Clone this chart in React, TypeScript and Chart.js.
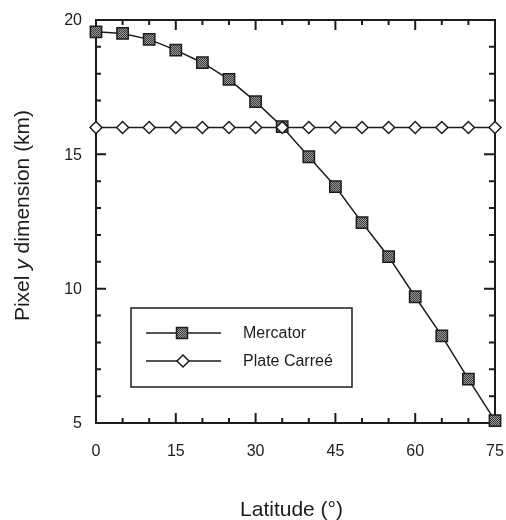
import React, { useEffect, useRef } from "react";
import { Chart, registerables } from "chart.js";

Chart.register(...registerables);

// ---- data ----
const latitudes = [0, 5, 10, 15, 20, 25, 30, 35, 40, 45, 50, 55, 60, 65, 70, 75];
const mercator = [19.56, 19.5, 19.28, 18.88, 18.41, 17.79, 16.96, 16.03, 14.91, 13.8, 12.46, 11.19, 9.7, 8.24, 6.63, 5.09];
const plateCarree = [16, 16, 16, 16, 16, 16, 16, 16, 16, 16, 16, 16, 16, 16, 16, 16];
const xTickLabels = [0, 15, 30, 45, 60, 75];
const yTickLabels = [5, 10, 15, 20];
const xMinorStep = 5;
const yMinorStep = 1;
const seriesNames = ["Mercator", "Plate Carreé"];
const xTitle = "Latitude (°)";
const yTitleParts = ["Pixel ", "y", " dimension (km)"];

const FONT = "'Liberation Sans', Arial, Helvetica, sans-serif";
const INK = "#1c1c1c";

function makePattern(): CanvasPattern | string {
  const c = document.createElement("canvas");
  c.width = 2;
  c.height = 2;
  const g = c.getContext("2d");
  if (!g) return "#666";
  g.fillStyle = "#9a9a9a";
  g.fillRect(0, 0, 2, 2);
  g.fillStyle = "#3a3a3a";
  g.fillRect(0, 0, 1, 1);
  g.fillRect(1, 1, 1, 1);
  const p = g.createPattern(c, "repeat");
  return p || "#666";
}

function drawSquare(ctx: CanvasRenderingContext2D, x: number, y: number, half: number, fill: any) {
  ctx.save();
  ctx.fillStyle = fill;
  ctx.strokeStyle = INK;
  ctx.lineWidth = 1.5;
  ctx.beginPath();
  ctx.rect(x - half, y - half, half * 2, half * 2);
  ctx.fill();
  ctx.stroke();
  ctx.restore();
}

function drawDiamond(ctx: CanvasRenderingContext2D, x: number, y: number, r: number) {
  ctx.save();
  ctx.fillStyle = "#ffffff";
  ctx.strokeStyle = INK;
  ctx.lineWidth = 1.5;
  ctx.beginPath();
  ctx.moveTo(x, y - r);
  ctx.lineTo(x + r, y);
  ctx.lineTo(x, y + r);
  ctx.lineTo(x - r, y);
  ctx.closePath();
  ctx.fill();
  ctx.stroke();
  ctx.restore();
}

export default function App() {
  const ref = useRef<HTMLCanvasElement | null>(null);

  useEffect(() => {
    document.body.style.margin = "0";
    const canvas = ref.current;
    if (!canvas) return;
    const pattern = makePattern();

    const framePlugin = {
      id: "frameAxes",
      beforeDatasetsDraw(chart: any) {
        const ctx: CanvasRenderingContext2D = chart.ctx;
        const { left, right, top, bottom } = chart.chartArea;
        const xs = chart.scales.x;
        const ys = chart.scales.y;
        ctx.save();
        ctx.strokeStyle = INK;
        ctx.lineWidth = 2;
        ctx.strokeRect(left, top, right - left, bottom - top);

        // x ticks (bottom & top), inward
        for (let v = xs.min; v <= xs.max + 1e-9; v += xMinorStep) {
          const px = xs.getPixelForValue(v);
          const major = xTickLabels.includes(v);
          const lb = major ? 10 : 5;
          const lt = major ? 10 : 5;
          ctx.beginPath();
          ctx.moveTo(px, bottom);
          ctx.lineTo(px, bottom - lb);
          ctx.moveTo(px, top);
          ctx.lineTo(px, top + lt);
          ctx.stroke();
        }
        // y ticks (left & right), inward
        for (let v = ys.min; v <= ys.max + 1e-9; v += yMinorStep) {
          const py = ys.getPixelForValue(v);
          const major = yTickLabels.includes(v);
          const ll = major ? 10 : 5;
          const lr = major ? 11 : 6;
          ctx.beginPath();
          ctx.moveTo(left, py);
          ctx.lineTo(left + ll, py);
          ctx.moveTo(right, py);
          ctx.lineTo(right - lr, py);
          ctx.stroke();
        }

        // tick labels
        ctx.fillStyle = INK;
        ctx.font = `16px ${FONT}`;
        ctx.textAlign = "center";
        ctx.textBaseline = "alphabetic";
        for (const v of xTickLabels) {
          ctx.fillText(String(v), xs.getPixelForValue(v), bottom + 33);
        }
        ctx.textAlign = "right";
        ctx.textBaseline = "middle";
        for (const v of yTickLabels) {
          ctx.fillText(String(v), left - 14, ys.getPixelForValue(v) + 1);
        }

        // x title
        ctx.font = `21px ${FONT}`;
        ctx.textAlign = "center";
        ctx.textBaseline = "alphabetic";
        ctx.fillText(xTitle, (left + right) / 2 - 4, bottom + 93);

        // y title (rotated, italic y)
        const fonts = [`21px ${FONT}`, `italic 21px ${FONT}`, `21px ${FONT}`];
        const widths = yTitleParts.map((t, i) => {
          ctx.font = fonts[i];
          return ctx.measureText(t).width;
        });
        const total = widths.reduce((a, b) => a + b, 0);
        ctx.save();
        ctx.translate(left - 67, (top + bottom) / 2 - 6);
        ctx.rotate(-Math.PI / 2);
        ctx.textAlign = "left";
        ctx.textBaseline = "alphabetic";
        let cx = -total / 2;
        yTitleParts.forEach((t, i) => {
          ctx.font = fonts[i];
          ctx.fillText(t, cx, 0);
          cx += widths[i];
        });
        ctx.restore();

        // legend
        const bx = left + 35;
        const by = top + 288;
        const bw = 221;
        const bh = 79;
        ctx.lineWidth = 1.5;
        ctx.strokeRect(bx, by, bw, bh);
        const rows = [by + 25, by + 53];
        rows.forEach((ry) => {
          ctx.beginPath();
          ctx.moveTo(bx + 15, ry);
          ctx.lineTo(bx + 90, ry);
          ctx.stroke();
        });
        drawSquare(ctx, bx + 51, rows[0], 5.5, pattern);
        drawDiamond(ctx, bx + 52, rows[1], 6);
        ctx.font = `16px ${FONT}`;
        ctx.textAlign = "left";
        ctx.textBaseline = "middle";
        ctx.fillStyle = INK;
        ctx.fillText(seriesNames[0], bx + 112, rows[0] + 1);
        ctx.fillText(seriesNames[1], bx + 112, rows[1] + 1);
        ctx.restore();
      },
    };

    const chart = new Chart(canvas, {
      type: "line",
      data: {
        labels: latitudes,
        datasets: [
          {
            label: seriesNames[1],
            data: latitudes.map((x, i) => ({ x, y: plateCarree[i] })),
            borderColor: INK,
            borderWidth: 1.5,
            pointStyle: "rectRot",
            pointRadius: 6,
            pointBorderWidth: 1.5,
            pointBackgroundColor: "#ffffff",
            pointBorderColor: INK,
            tension: 0,
            clip: false as any,
          },
          {
            label: seriesNames[0],
            data: latitudes.map((x, i) => ({ x, y: mercator[i] })),
            borderColor: INK,
            borderWidth: 1.5,
            pointStyle: "rect",
            pointRadius: 8,
            pointBorderWidth: 1.5,
            pointBackgroundColor: pattern as any,
            pointBorderColor: INK,
            tension: 0,
            clip: false as any,
          },
        ],
      },
      options: {
        responsive: false,
        animation: false,
        devicePixelRatio: 1,
        layout: { padding: { left: 96, right: 11, top: 20, bottom: 97 } },
        plugins: { legend: { display: false }, tooltip: { enabled: false } },
        events: [],
        scales: {
          x: { type: "linear", min: 0, max: 75, display: false },
          y: { type: "linear", min: 5, max: 20, display: false },
        },
      },
      plugins: [framePlugin],
    });
    return () => chart.destroy();
  }, []);

  return (
    <canvas
      ref={ref}
      width={506}
      height={520}
      style={{ display: "block", width: 506, height: 520 }}
    />
  );
}
